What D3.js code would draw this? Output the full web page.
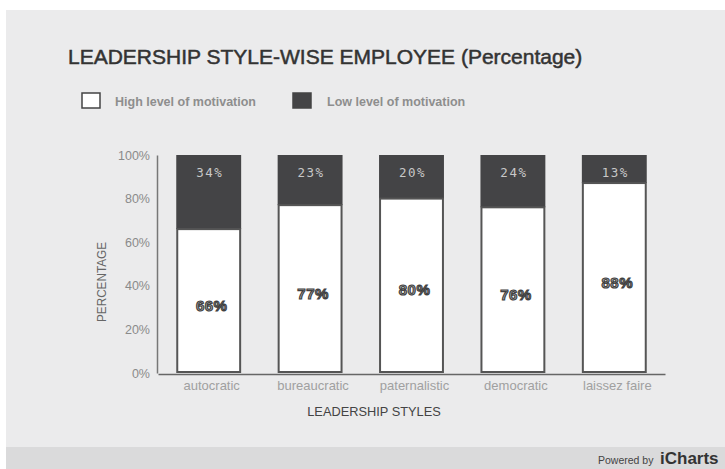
<!DOCTYPE html>
<html>
<head>
<meta charset="utf-8">
<script src="https://cdn.jsdelivr.net/npm/d3@7/dist/d3.min.js"></script>
<style>
  html, body { margin: 0; padding: 0; background: #ffffff; }
  svg { display: block; }
</style>
</head>
<body>
<script>
// Leadership styles and the share of employees at each motivation level
const categories = ["autocratic", "bureaucratic", "paternalistic", "democratic", "laissez faire"];
const highMotivation = [66, 77, 80, 76, 88];
const lowMotivation = [34, 23, 20, 24, 13];
const yTicks = [0, 20, 40, 60, 80, 100];
const seriesNames = ["High level of motivation", "Low level of motivation"];

const W = 725, H = 469;
const svg = d3.select("body").append("svg").attr("width", W).attr("height", H);

// panel and footer band
svg.append("rect").attr("x", 6).attr("y", 10).attr("width", W - 6).attr("height", 437).attr("fill", "#ebebec");
svg.append("rect").attr("x", 6).attr("y", 447).attr("width", W - 6).attr("height", H - 447).attr("fill", "#dadadb");

// title
svg.append("text")
  .attr("x", 68).attr("y", 64)
  .attr("font-family", "Liberation Sans, Arial, sans-serif")
  .attr("font-size", 21)
  .attr("fill", "#333")
  .attr("stroke", "#333").attr("stroke-width", 0.5)
  .text("LEADERSHIP STYLE-WISE EMPLOYEE (Percentage)");

// legend
const legend = svg.append("g");
const legendItems = [
  { name: seriesNames[0], fill: "#ffffff", x: 82, tx: 115 },
  { name: seriesNames[1], fill: "#444446", x: 293, tx: 327 }
];
legendItems.forEach(d => {
  legend.append("rect")
    .attr("x", d.x).attr("y", 93).attr("width", 18).attr("height", 15)
    .attr("fill", d.fill).attr("stroke", "#444").attr("stroke-width", 1.5);
  legend.append("text")
    .attr("x", d.tx).attr("y", 105.5)
    .attr("font-family", "Liberation Sans, Arial, sans-serif")
    .attr("font-size", 12.5).attr("font-weight", "bold")
    .attr("fill", "#8e8e8e")
    .text(d.name);
});

// scales
const x = d3.scaleBand().domain(categories).range([158, 665]).paddingInner(0.36).paddingOuter(0.18);
const y = d3.scaleLinear().domain([0, 100]).range([373, 155]);

// 100% stacked bars: each bar is normalised by its total
const rows = categories.map((c, i) => {
  const total = highMotivation[i] + lowMotivation[i];
  return { cat: c, high: highMotivation[i], low: lowMotivation[i],
           hs: highMotivation[i] / total * 100, total };
});

const bars = svg.append("g");
// low segment (top)
bars.selectAll("rect.low").data(rows).join("rect")
  .attr("class", "low")
  .attr("x", d => x(d.cat))
  .attr("y", y(100))
  .attr("width", x.bandwidth())
  .attr("height", d => y(d.hs) - y(100))
  .attr("fill", "#444446");
// high segment (bottom)
bars.selectAll("rect.high").data(rows).join("rect")
  .attr("class", "high")
  .attr("x", d => x(d.cat) + 1)
  .attr("y", d => y(d.hs))
  .attr("width", x.bandwidth() - 2)
  .attr("height", d => y(0) - y(d.hs) - 1)
  .attr("fill", "#ffffff")
  .attr("stroke", "#555").attr("stroke-width", 2);

// value labels on low segments
bars.selectAll("text.lowlab").data(rows).join("text")
  .attr("class", "lowlab")
  .attr("x", d => x(d.cat) + x.bandwidth() / 2 + 1)
  .attr("y", y(100) + 22)
  .attr("text-anchor", "middle")
  .attr("font-family", "DejaVu Sans Mono, Liberation Mono, monospace")
  .attr("font-size", 12.5)
  .attr("letter-spacing", 1.5)
  .attr("fill", "#c8c8c8")
  .text(d => d.low + "%");

// value labels on high segments
bars.selectAll("text.highlab").data(rows).join("text")
  .attr("class", "highlab")
  .attr("x", d => x(d.cat) + x.bandwidth() / 2 + 3)
  .attr("y", d => (y(d.hs) + y(0)) / 2 + 4)
  .attr("dominant-baseline", "central")
  .attr("text-anchor", "middle")
  .attr("font-family", "Liberation Sans, Arial, sans-serif")
  .attr("font-size", 15).attr("font-weight", "bold")
  .attr("letter-spacing", 0.5)
  .attr("fill", "#a8a8a8")
  .attr("stroke", "#404040").attr("stroke-width", 1.1)
  .text(d => d.high + "%");

// y axis
const yAxis = svg.append("g").attr("transform", "translate(157,0)")
  .call(d3.axisLeft(y).tickValues(yTicks).tickFormat(d => d + "%").tickSizeInner(0).tickSizeOuter(0).tickPadding(7));
yAxis.select(".domain").attr("stroke", "#777").attr("stroke-width", 1.5);
yAxis.selectAll("text")
  .attr("font-family", "Liberation Sans, Arial, sans-serif")
  .attr("font-size", 12.5).attr("fill", "#8a8a8a");

// x axis
const xAxis = svg.append("g").attr("transform", "translate(0,374)")
  .call(d3.axisBottom(x).tickSizeInner(0).tickSizeOuter(0).tickPadding(7));
xAxis.select(".domain").attr("stroke", "#666").attr("stroke-width", 1.5);
xAxis.selectAll("text")
  .attr("font-family", "Liberation Sans, Arial, sans-serif")
  .attr("font-size", 13).attr("fill", "#a0a0a0")
  .attr("dx", 3);

// axis titles
svg.append("text")
  .attr("x", 374).attr("y", 416)
  .attr("text-anchor", "middle")
  .attr("font-family", "Liberation Sans, Arial, sans-serif")
  .attr("font-size", 12.8).attr("fill", "#444")
  .text("LEADERSHIP STYLES");

svg.append("text")
  .attr("transform", "translate(106,282) rotate(-90)")
  .attr("text-anchor", "middle")
  .attr("font-family", "Liberation Sans, Arial, sans-serif")
  .attr("font-size", 13).attr("fill", "#666")
  .attr("textLength", 80).attr("lengthAdjust", "spacingAndGlyphs")
  .text("PERCENTAGE");

// footer credit
svg.append("text")
  .attr("x", 598).attr("y", 464)
  .attr("font-family", "Liberation Sans, Arial, sans-serif")
  .attr("font-size", 10.5).attr("fill", "#444")
  .text("Powered by");
svg.append("text")
  .attr("x", 660).attr("y", 464)
  .attr("font-family", "Liberation Sans, Arial, sans-serif")
  .attr("font-size", 17).attr("font-weight", "bold").attr("fill", "#333")
  .text("iCharts");
</script>
</body>
</html>
